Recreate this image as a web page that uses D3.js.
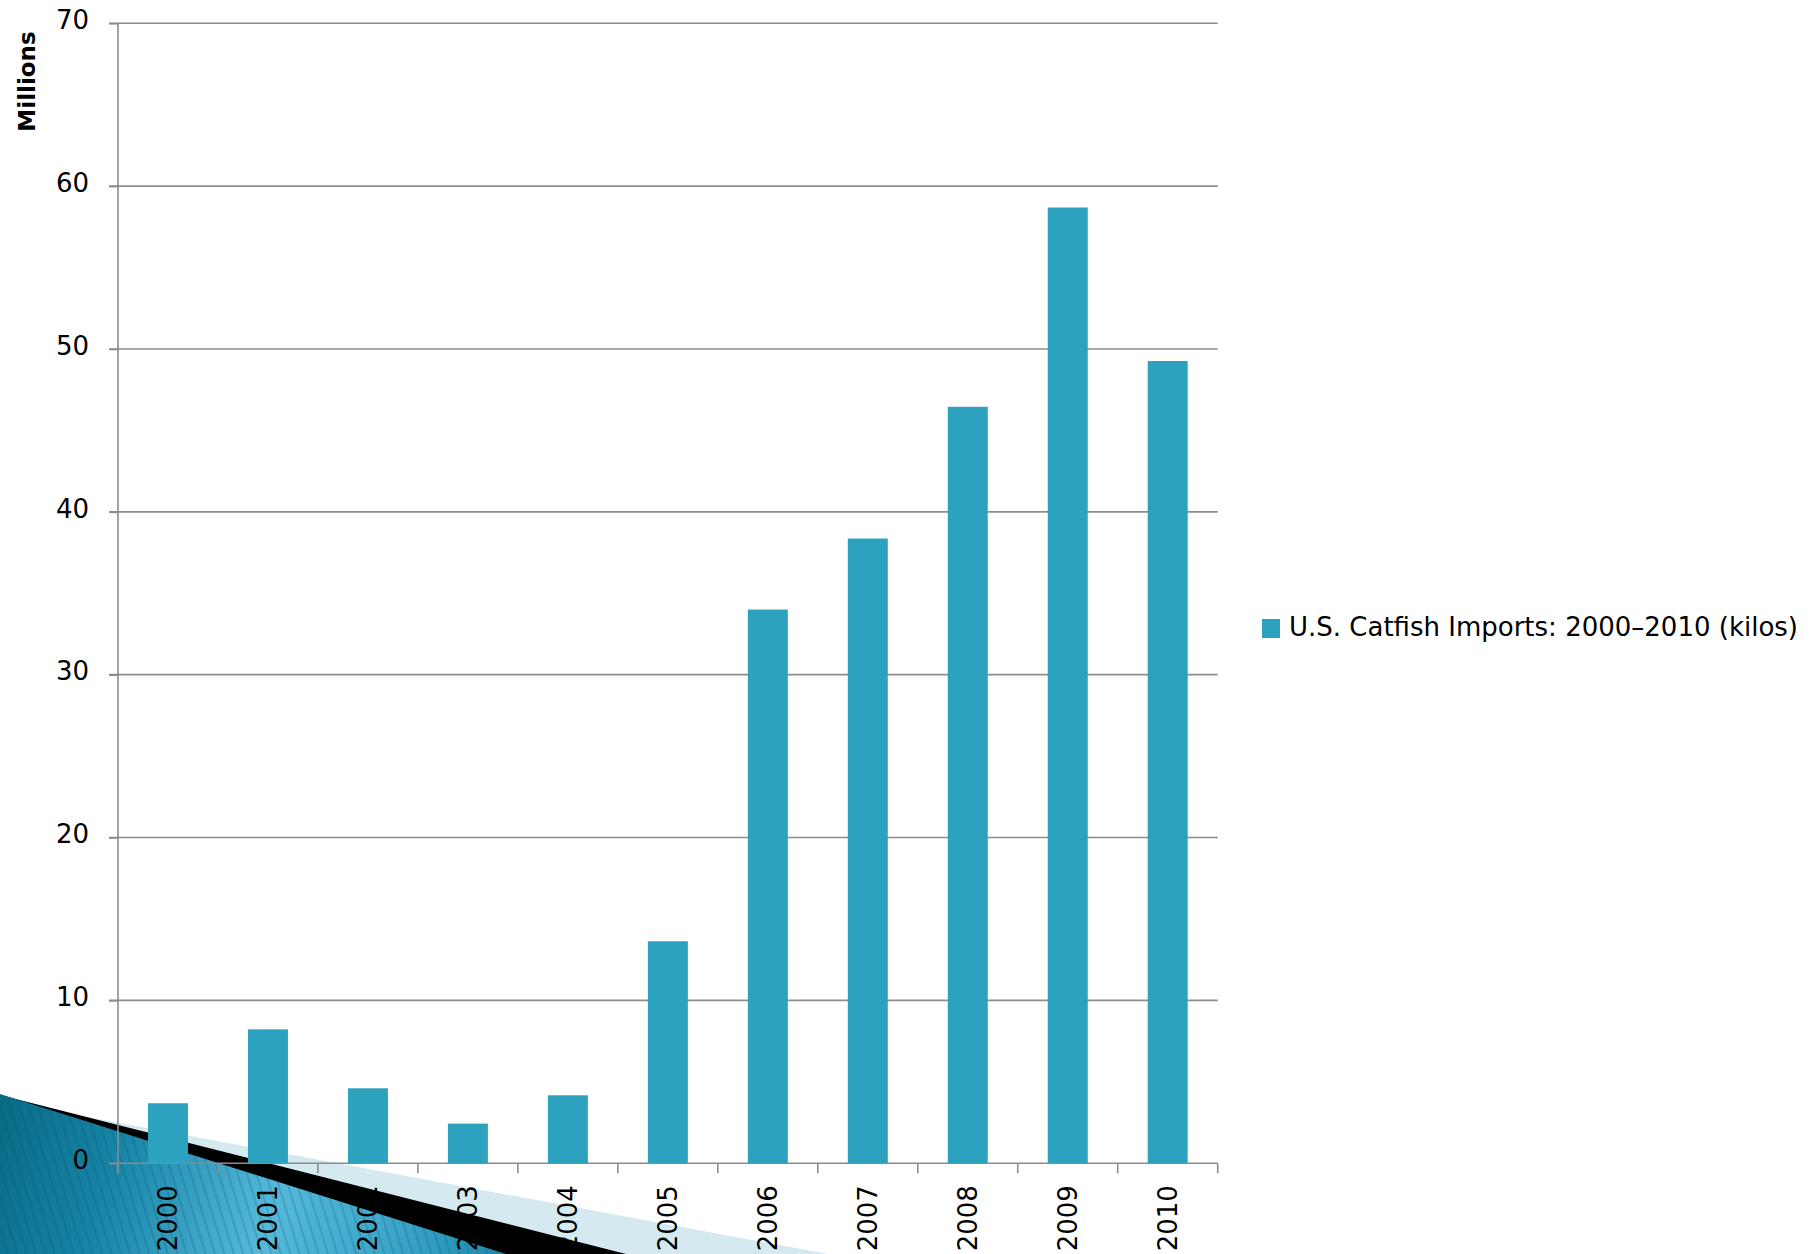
<!DOCTYPE html>
<html>
<head>
<meta charset="utf-8">
<script src="https://cdn.jsdelivr.net/npm/d3@7"></script>
<style>
  html, body { margin: 0; padding: 0; background: #ffffff; }
  svg { display: block; }
  text { font-family: "DejaVu Sans", Verdana, sans-serif; fill: #000; }
</style>
</head>
<body>
<svg id="chart" width="1818" height="1254"></svg>
<script>
// U.S. catfish imports, 2000–2010, in millions of kilos
const years = ["2000", "2001", "2002", "2003", "2004", "2005", "2006", "2007", "2008", "2009", "2010"];
const imports = [3.68, 8.22, 4.60, 2.43, 4.17, 13.63, 34.0, 38.36, 46.45, 58.69, 49.26];
const yTicks = [0, 10, 20, 30, 40, 50, 60, 70];
const seriesName = "U.S. Catfish Imports: 2000–2010 (kilos)";
const axisTitle = "Millions";

const W = 1818, H = 1254;
const plot = { left: 118, right: 1217.7, top: 23.3, bottom: 1163.2 };
const barColor = "#2ca2bf";
const gridColor = "#8c8c8c";
const labelSize = 26;

const svg = d3.select("#chart");

// ---- slide decoration in the lower-left corner ----
const defs = svg.append("defs");
const grad = defs.append("linearGradient")
  .attr("id", "tealGrad")
  .attr("gradientUnits", "userSpaceOnUse")
  .attr("x1", 0).attr("y1", 1100).attr("x2", 506).attr("y2", 1254);
[[0, "#0a6a86"], [0.25, "#1786a8"], [0.55, "#56b9da"], [0.8, "#3aa5c8"], [1, "#1b88ab"]]
  .forEach(([o, c]) => grad.append("stop").attr("offset", o).attr("stop-color", c));

const pat = defs.append("pattern")
  .attr("id", "pinStripe")
  .attr("patternUnits", "userSpaceOnUse")
  .attr("width", 9).attr("height", 9)
  .attr("patternTransform", "rotate(-17)");
pat.append("line")
  .attr("x1", 1).attr("y1", 0).attr("x2", 1).attr("y2", 9)
  .attr("stroke", "#05506a").attr("stroke-opacity", 0.3).attr("stroke-width", 1.4);

const deco = svg.append("g").attr("class", "decoration");
deco.append("polygon")
  .attr("points", "0,1100.8 828,1254 0,1254")
  .attr("fill", "#d5e9f1");
deco.append("polygon")
  .attr("points", "0,1095 626,1254 0,1254")
  .attr("fill", "#000000");
deco.append("polygon")
  .attr("points", "0,1094 506,1254 0,1254")
  .attr("fill", "url(#tealGrad)");
deco.append("polygon")
  .attr("points", "0,1094 506,1254 0,1254")
  .attr("fill", "url(#pinStripe)");

// ---- scales ----
const x = d3.scaleBand().domain(years).range([plot.left, plot.right]).padding(0);
const y = d3.scaleLinear().domain([0, 70]).range([plot.bottom, plot.top]);

// ---- horizontal gridlines ----
svg.append("g").attr("class", "grid")
  .selectAll("line")
  .data(yTicks)
  .join("line")
  .attr("x1", plot.left - 9)
  .attr("x2", plot.right)
  .attr("y1", d => y(d))
  .attr("y2", d => y(d))
  .attr("stroke", gridColor)
  .attr("stroke-width", 1.6);

// ---- bars ----
const barW = x.bandwidth() * 0.4;
svg.append("g").attr("class", "bars")
  .selectAll("rect")
  .data(years.map((yr, i) => ({ year: yr, value: imports[i] })))
  .join("rect")
  .attr("x", d => x(d.year) + (x.bandwidth() - barW) / 2)
  .attr("y", d => y(d.value))
  .attr("width", barW)
  .attr("height", d => y(0) - y(d.value))
  .attr("fill", barColor);

// ---- y axis ----
const yAxis = d3.axisLeft(y).tickValues(yTicks).tickSize(9).tickPadding(20).tickFormat(d3.format("d"));
const gy = svg.append("g")
  .attr("transform", `translate(${plot.left},0)`)
  .call(yAxis);
gy.select(".domain").remove();
gy.selectAll(".tick line").attr("stroke", gridColor).attr("stroke-width", 1.6);
gy.selectAll(".tick text")
  .attr("font-size", labelSize)
  .attr("dy", "0.2em")
  .style("font-family", "'DejaVu Sans', Verdana, sans-serif");
svg.append("line")
  .attr("x1", plot.left).attr("x2", plot.left)
  .attr("y1", plot.top).attr("y2", plot.bottom + 10)
  .attr("stroke", gridColor).attr("stroke-width", 1.6);

// ---- x axis ----
const xAxis = d3.axisBottom(x).tickSize(0);
const gx = svg.append("g")
  .attr("transform", `translate(0,${plot.bottom})`)
  .call(xAxis);
gx.select(".domain").remove();
gx.selectAll(".tick text")
  .attr("font-size", labelSize)
  .attr("transform", "rotate(-90)")
  .attr("text-anchor", "end")
  .attr("x", -22)
  .attr("y", 0)
  .attr("dy", "0.36em")
  .style("font-family", "'DejaVu Sans', Verdana, sans-serif");

// category separators below the baseline
svg.append("g").attr("class", "x-separators")
  .selectAll("line")
  .data(d3.range(years.length + 1))
  .join("line")
  .attr("x1", i => plot.left + i * x.step())
  .attr("x2", i => plot.left + i * x.step())
  .attr("y1", plot.bottom)
  .attr("y2", plot.bottom + 10)
  .attr("stroke", gridColor)
  .attr("stroke-width", 1.6);

// ---- axis title ----
svg.append("text")
  .attr("transform", "translate(35,81.5) rotate(-90)")
  .attr("text-anchor", "middle")
  .attr("font-size", 23)
  .attr("font-weight", "bold")
  .text(axisTitle);

// ---- legend ----
const legend = svg.append("g").attr("transform", "translate(1262,619)");
legend.append("rect")
  .attr("width", 18).attr("height", 19)
  .attr("fill", barColor);
legend.append("text")
  .attr("x", 27)
  .attr("y", 17)
  .attr("font-size", labelSize)
  .text(seriesName);
</script>
</body>
</html>
